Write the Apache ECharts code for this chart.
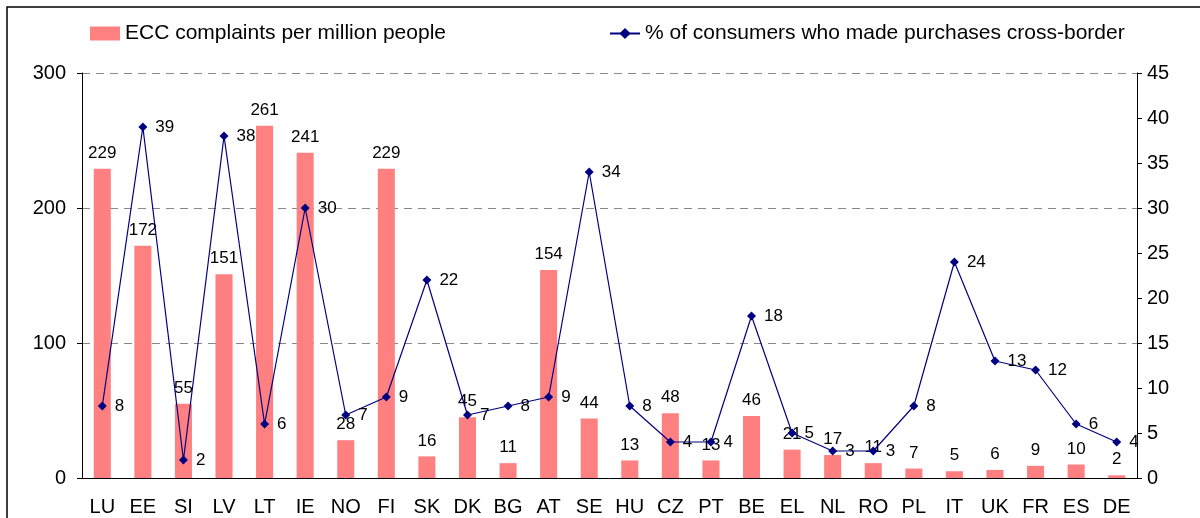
<!DOCTYPE html>
<html>
<head>
<meta charset="utf-8">
<script src="https://cdn.jsdelivr.net/npm/echarts@6/dist/echarts.min.js"></script>
<style>
  html, body { margin: 0; padding: 0; background: #fff; }
  #chart { width: 1200px; height: 518px; }
</style>
</head>
<body>
<div id="chart"></div>
<script>
// countries along the x axis
const countries = ['LU', 'EE', 'SI', 'LV', 'LT', 'IE', 'NO', 'FI', 'SK', 'DK', 'BG', 'AT', 'SE',
  'HU', 'CZ', 'PT', 'BE', 'EL', 'NL', 'RO', 'PL', 'IT', 'UK', 'FR', 'ES', 'DE'];
// ECC complaints per million people (left axis)
const complaints = [229, 172, 55, 151, 261, 241, 28, 229, 16, 45, 11, 154, 44,
  13, 48, 13, 46, 21, 17, 11, 7, 5, 6, 9, 10, 2];
// % of consumers who made purchases cross-border (right axis)
const crossBorder = [8, 39, 2, 38, 6, 30, 7, 9, 22, 7, 8, 9, 34,
  8, 4, 4, 18, 5, 3, 3, 8, 24, 13, 12, 6, 4];

const font = 'Liberation Sans, Arial, sans-serif';
const chart = echarts.init(document.getElementById('chart'));

chart.setOption({
  animation: false,
  textStyle: { fontFamily: font },
  graphic: [{
    type: 'polyline',
    shape: { points: [[7, 518], [7, 7], [1200, 7]] },
    style: { stroke: '#000', lineWidth: 1.5, fill: null }
  }],
  legend: [{
    left: 90, top: 23, padding: 0,
    itemWidth: 30, itemHeight: 14,
    textStyle: { fontSize: 21, color: '#000', fontFamily: font },
    data: [{ name: 'ECC complaints per million people', icon: 'rect' }]
  }, {
    left: 609, top: 23, padding: 0,
    itemWidth: 30, itemHeight: 14,
    textStyle: { fontSize: 21, color: '#000', fontFamily: font },
    data: ['% of consumers who made purchases cross-border']
  }],
  grid: { left: 82, right: 63, top: 73, bottom: 40 },
  xAxis: {
    type: 'category',
    data: countries,
    axisLine: { lineStyle: { color: '#000', width: 1 } },
    axisTick: { length: 5, lineStyle: { color: '#000' } },
    axisLabel: { color: '#000', fontSize: 20, margin: 19, interval: 0, fontFamily: font }
  },
  yAxis: [{
    type: 'value', min: 0, max: 300, interval: 100,
    axisLine: { show: true, lineStyle: { color: '#000' } },
    axisTick: { show: true, length: 5, lineStyle: { color: '#000' } },
    axisLabel: { color: '#000', fontSize: 20, margin: 16, fontFamily: font },
    splitLine: { lineStyle: { color: '#888', type: [8, 6] } }
  }, {
    type: 'value', min: 0, max: 45, interval: 5,
    axisLine: { show: true, lineStyle: { color: '#000' } },
    axisTick: { show: true, length: 5, lineStyle: { color: '#000' } },
    axisLabel: { color: '#000', fontSize: 20, margin: 10, fontFamily: font },
    splitLine: { show: false }
  }],
  series: [{
    name: 'ECC complaints per million people',
    type: 'bar',
    data: complaints,
    barWidth: '42%',
    itemStyle: { color: '#FF8080' },
    label: { show: true, position: 'top', distance: 7, fontSize: 17, color: '#000', fontFamily: font }
  }, {
    name: '% of consumers who made purchases cross-border',
    type: 'line',
    yAxisIndex: 1,
    data: crossBorder,
    symbol: 'diamond',
    symbolSize: 9,
    lineStyle: { color: '#000080', width: 1.2 },
    itemStyle: { color: '#000080' },
    label: { show: true, position: 'right', distance: 8, fontSize: 17, color: '#000', fontFamily: font }
  }]
});
</script>
</body>
</html>
